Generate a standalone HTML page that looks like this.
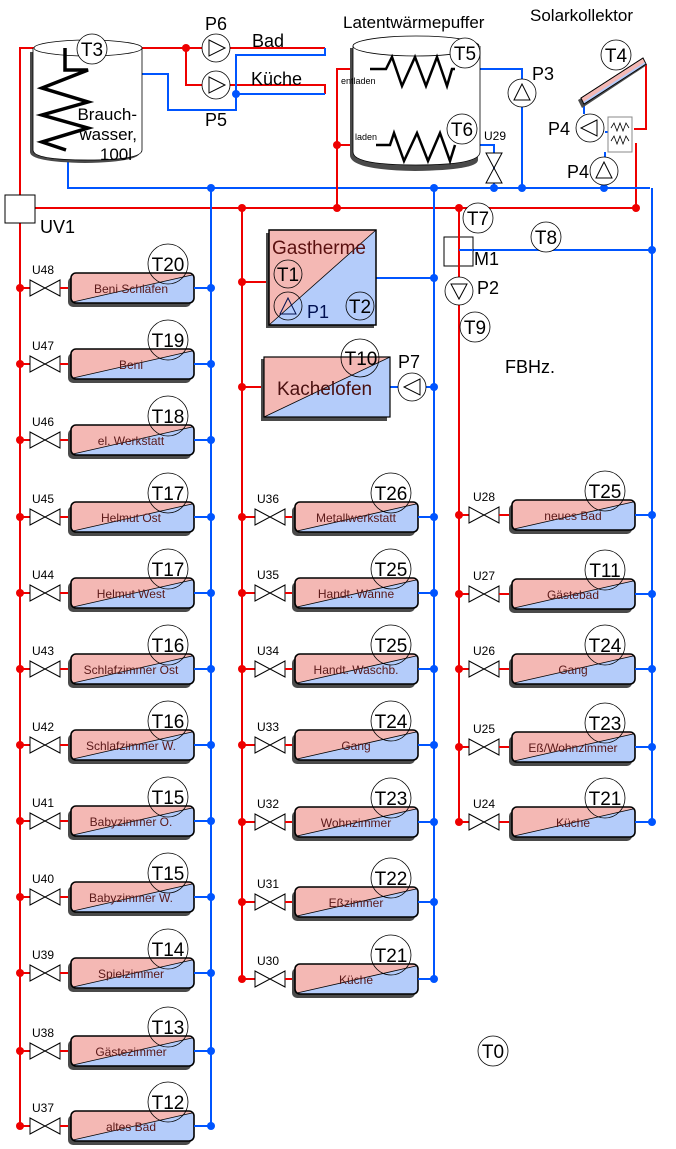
<!DOCTYPE html>
<html><head><meta charset="utf-8"><style>
html,body{margin:0;padding:0;background:#fff}
svg{display:block}
text{font-family:"Liberation Sans",sans-serif}
.n{font-size:12px;fill:#5a1818;text-anchor:middle}
.u{font-size:12px;fill:#000;text-anchor:middle}
.t{font-size:19px;fill:#000;text-anchor:middle}
.b{font-size:18px;fill:#000}
</style></head><body>
<svg width="676" height="1149" viewBox="0 0 676 1149" xmlns="http://www.w3.org/2000/svg">
<defs>
<g id="rad">
 <rect x="-3" y="-11" width="123" height="30" rx="5" fill="#4a4a4a"/>
 <rect x="0" y="-15" width="123" height="30" rx="5" fill="#f4b8b4"/>
 <path d="M2,14 L121,-13 L123,-9 V10 Q123,15 118,15 H5 Z" fill="#b4ccfa"/>
 <line x1="2" y1="14" x2="121" y2="-13" stroke="#000" stroke-width="0.8"/>
 <rect x="0" y="-15" width="123" height="30" rx="5" fill="none" stroke="#000" stroke-width="1.6"/>
</g>
<path id="vl" d="M0,-8 L15,0 L0,8Z M30,-8 L15,0 L30,8Z" fill="#fff" stroke="#000" stroke-width="1"/>
<g id="L"><line x1="20" y1="0" x2="30" y2="0" stroke="#e00" stroke-width="2"/><use href="#vl" x="30"/><line x1="60" y1="0" x2="72" y2="0" stroke="#e00" stroke-width="2"/><use href="#rad" x="71"/><line x1="194" y1="0" x2="211" y2="0" stroke="#05f" stroke-width="2"/><circle cx="20" r="4" fill="#e00"/><circle cx="211" r="4" fill="#05f"/><circle cx="168" cy="-24" r="20" fill="none" stroke="#000" stroke-width="0.8"/></g>
<g id="M"><line x1="242" y1="0" x2="255" y2="0" stroke="#e00" stroke-width="2"/><use href="#vl" x="255"/><line x1="285" y1="0" x2="296" y2="0" stroke="#e00" stroke-width="2"/><use href="#rad" x="295"/><line x1="418" y1="0" x2="434" y2="0" stroke="#05f" stroke-width="2"/><circle cx="242" r="4" fill="#e00"/><circle cx="434" r="4" fill="#05f"/><circle cx="391" cy="-24" r="20" fill="none" stroke="#000" stroke-width="0.8"/></g>
<g id="R"><line x1="459" y1="0" x2="470" y2="0" stroke="#e00" stroke-width="2"/><use href="#vl" x="469"/><line x1="499" y1="0" x2="513" y2="0" stroke="#e00" stroke-width="2"/><use href="#rad" x="512"/><line x1="635" y1="0" x2="652" y2="0" stroke="#05f" stroke-width="2"/><circle cx="459" r="4" fill="#e00"/><circle cx="652" r="4" fill="#05f"/><circle cx="605" cy="-24" r="20" fill="none" stroke="#000" stroke-width="0.8"/></g>
</defs>

<!-- main pipes -->
<g fill="none" stroke-width="2">
 <path d="M20,1126 V48 H65" stroke="#e00"/>
 <path d="M20,208 H636 V143" stroke="#e00"/>
 <path d="M242,208 V979" stroke="#e00"/>
 <path d="M459,208 V821" stroke="#e00"/>
 <path d="M211,187 V1126" stroke="#05f"/>
 <path d="M434,187 V979" stroke="#05f"/>
 <path d="M652,188 V821" stroke="#05f"/>
 <path d="M68,150 V188 H650" stroke="#05f"/>
 <path d="M459,250 H652" stroke="#05f"/>
 <path d="M376,278 H434" stroke="#05f"/>
 <path d="M390,387 H434" stroke="#05f"/>
 <path d="M242,282 H268 M242,387 H263" stroke="#e00"/>
 <!-- Brauchwasser outputs -->
 <path d="M130,48 H325 M186,48 V85 H325 V94" stroke="#e00"/>
 <path d="M325,48 V55 H236 V110 H168 V74 H142 M236,94 H325" stroke="#05f"/>
 <!-- latent -->
 <path d="M337,208 V69 H370 M337,145 H385" stroke="#e00"/>
 <path d="M455,69 H522 V188 M455,145 H494 V188" stroke="#05f"/>
 <!-- solar -->
 <path d="M646,64 V129 H634" stroke="#e00"/>
 <path d="M584,104 V114 M605,132 H608 M605,152 V188" stroke="#05f"/>
</g>
<g fill="#e00"><circle cx="186" cy="48" r="4"/><circle cx="242" cy="208" r="4"/><circle cx="337" cy="208" r="4"/><circle cx="459" cy="208" r="4"/><circle cx="337" cy="145" r="4"/><circle cx="242" cy="282" r="4"/><circle cx="242" cy="387" r="4"/><circle cx="636" cy="208" r="4"/></g>
<g fill="#05f"><circle cx="236" cy="94" r="4"/><circle cx="211" cy="188" r="4"/><circle cx="434" cy="188" r="4"/><circle cx="494" cy="188" r="4"/><circle cx="522" cy="188" r="4"/><circle cx="604" cy="188" r="4"/><circle cx="434" cy="278" r="4"/><circle cx="434" cy="387" r="4"/><circle cx="652" cy="250" r="4"/></g>

<!-- Brauchwasser tank -->
<path d="M30,52 V152 Q30,162 85,163 Q140,162 140,152 V52" fill="#4a4a4a"/>
<path d="M33,48 V150 Q33,160 88,160 Q142,160 142,150 V48" fill="#fff" stroke="#000" stroke-width="0.8"/>
<ellipse cx="88" cy="48" rx="54" ry="8" fill="#fff" stroke="#000" stroke-width="0.8"/>
<path d="M65,48 V70 H88 L42,88 L88,102 L42,115 L88,128 L42,142 L66,150" fill="none" stroke="#000" stroke-width="3.5"/>
<circle cx="92" cy="49" r="15" fill="#fff" stroke="#000" stroke-width="0.8"/><text x="92" y="56" class="t">T3</text>
<text x="137" y="120" font-size="17" text-anchor="end">Brauch-</text>
<text x="137" y="140" font-size="17" text-anchor="end">wasser,</text>
<text x="132" y="160" font-size="17" text-anchor="end">100l</text>
<!-- pumps P6 P5 -->
<g fill="#fff" stroke="#000" stroke-width="0.8"><circle cx="216" cy="48" r="14"/><circle cx="216" cy="85" r="14"/></g>
<path d="M209,40 L225,48 L209,56Z M209,77 L225,85 L209,93Z" fill="none" stroke="#000"/>
<text x="205" y="30" class="b" font-size="19">P6</text>
<text x="205" y="126" class="b" font-size="19">P5</text>
<text x="252" y="47" class="b" font-size="19">Bad</text>
<text x="251" y="85" class="b" font-size="19">Küche</text>

<!-- UV1 -->
<rect x="5" y="195" width="30" height="28" fill="#fff" stroke="#000"/>
<text x="40" y="233" class="b" font-size="19">UV1</text>

<!-- Latent tank -->
<path d="M350,48 V155 Q350,170 415,171 Q478,170 478,160 V48" fill="#4a4a4a"/>
<path d="M353,46 V152 Q353,165 416,165 Q480,165 480,152 V46" fill="#fff" stroke="#000" stroke-width="0.8"/>
<ellipse cx="416" cy="46" rx="63" ry="10" fill="#fff" stroke="#000" stroke-width="0.8"/>
<path d="M370,69 H386 L392,57 L402,86 L415,57 L426,86 L437,57 L447,86 L452,69 H455" fill="none" stroke="#000" stroke-width="2.5"/>
<path d="M376,145 H390 L394,133 L404,161 L417,133 L428,161 L440,133 L450,161 L455,145" fill="none" stroke="#000" stroke-width="2.5"/>
<text x="341" y="84" font-size="9">entladen</text>
<text x="355" y="140" font-size="9">laden</text>
<circle cx="465" cy="53" r="15" fill="#fff" stroke="#000" stroke-width="0.8"/><text x="465" y="60" class="t">T5</text>
<circle cx="462" cy="129" r="15" fill="#fff" stroke="#000" stroke-width="0.8"/><text x="462" y="136" class="t">T6</text>
<text x="343" y="28" font-size="17">Latentwärmepuffer</text>
<text x="484" y="140" font-size="12">U29</text>
<path d="M486,153 L502,153 L494,168Z M486,183 L502,183 L494,168Z" fill="#fff" stroke="#000"/>
<circle cx="522" cy="93" r="14" fill="#fff" stroke="#000" stroke-width="0.8"/>
<path d="M514,100 L522,84 L530,100Z" fill="none" stroke="#000"/>
<text x="532" y="80" class="b" font-size="19">P3</text>

<!-- Solar -->
<text x="530" y="21" font-size="17">Solarkollektor</text>
<path d="M578,100 L643,60 L647,65 L582,108Z" fill="#4a4a4a"/>
<path d="M581,98 L643,58 L646,64 L584,104Z" fill="#f4b8b4" stroke="#000" stroke-width="0.8"/>
<path d="M583,102 L645,62 L646,64 L584,104Z" fill="#b4ccfa"/>
<path d="M581,98 L643,58 L646,64 L584,104Z" fill="none" stroke="#000" stroke-width="0.8"/>
<circle cx="616" cy="55" r="15" fill="#fff" stroke="#000" stroke-width="0.8"/><text x="616" y="62" class="t">T4</text>
<circle cx="590" cy="128" r="14" fill="#fff" stroke="#000" stroke-width="0.8"/>
<path d="M597,120 L581,128 L597,136Z" fill="none" stroke="#000"/>
<text x="548" y="135" class="b" font-size="19">P4</text>
<rect x="608" y="117" width="24" height="35" fill="#fff" stroke="#888"/>
<path d="M611,128 l3,-5 l3,8 l3,-8 l3,8 l3,-8 l3,5 M611,141 l3,-5 l3,8 l3,-8 l3,8 l3,-8 l3,5" fill="none" stroke="#000" stroke-width="0.8"/>
<circle cx="604" cy="171" r="14" fill="#fff" stroke="#000" stroke-width="0.8"/>
<path d="M596,178 L604,162 L612,178Z" fill="none" stroke="#000"/>
<text x="567" y="178" class="b" font-size="19">P4</text>

<!-- M1, P2, T7-T9 -->
<rect x="444" y="237" width="29" height="29" fill="#fff" stroke="#000"/>
<path d="M459,208 V300" stroke="#e00" stroke-width="2"/>
<path d="M459,250 H473" stroke="#05f" stroke-width="2"/>
<text x="474" y="265" class="b" font-size="19">M1</text>
<circle cx="459" cy="291" r="14" fill="#fff" stroke="#000" stroke-width="0.8"/>
<path d="M451,284 L467,284 L459,299Z" fill="none" stroke="#000"/>
<text x="477" y="294" class="b" font-size="19">P2</text>
<circle cx="478" cy="218" r="15" fill="#fff" stroke="#000" stroke-width="0.8"/><text x="478" y="225" class="t">T7</text>
<circle cx="546" cy="237" r="15" fill="#fff" stroke="#000" stroke-width="0.8"/><text x="546" y="244" class="t">T8</text>
<circle cx="475" cy="327" r="15" fill="#fff" stroke="#000" stroke-width="0.8"/><text x="475" y="334" class="t">T9</text>
<text x="505" y="373" class="b" font-size="18">FBHz.</text>

<!-- Gastherme -->
<rect x="266" y="233" width="108" height="95" fill="#4a4a4a"/>
<rect x="269" y="230" width="107" height="95" fill="#f4b8b4"/>
<path d="M269,325 L376,230 V325Z" fill="#b4ccfa"/>
<line x1="269" y1="325" x2="376" y2="230" stroke="#000" stroke-width="0.8"/>
<rect x="269" y="230" width="107" height="95" fill="none" stroke="#000" stroke-width="1.5"/>
<text x="272" y="254" font-size="19" fill="#5a1010">Gastherme</text>
<circle cx="288" cy="274" r="14" fill="none" stroke="#000" stroke-width="0.8"/><text x="288" y="281" class="t" fill="#4a0000">T1</text>
<circle cx="288" cy="306" r="14" fill="none" stroke="#000" stroke-width="0.8"/>
<path d="M280,314 L288,298 L296,314Z" fill="none" stroke="#001050"/>
<text x="307" y="318" font-size="18" fill="#001050">P1</text>
<circle cx="360" cy="306" r="14" fill="none" stroke="#000" stroke-width="0.8"/><text x="360" y="313" class="t" fill="#001050">T2</text>

<!-- Kachelofen -->
<rect x="261" y="359" width="126" height="62" fill="#4a4a4a"/>
<rect x="264" y="357" width="126" height="60" fill="#f4b8b4"/>
<path d="M264,417 L390,357 V417Z" fill="#b4ccfa"/>
<line x1="264" y1="417" x2="390" y2="357" stroke="#000" stroke-width="0.8"/>
<rect x="264" y="357" width="126" height="60" fill="none" stroke="#000" stroke-width="1.2"/>
<text x="277" y="395" font-size="19" fill="#4a1010">Kachelofen</text>
<circle cx="360" cy="358" r="19" fill="none" stroke="#000" stroke-width="0.8"/><text x="361" y="365" class="t">T10</text>
<circle cx="412" cy="387" r="14" fill="#fff" stroke="#000" stroke-width="0.8"/>
<path d="M420,379 L404,387 L420,395Z" fill="none" stroke="#000"/>
<text x="398" y="368" class="b" font-size="19">P7</text>

<!-- T0 -->
<circle cx="493" cy="1051" r="15" fill="#fff" stroke="#000" stroke-width="0.8"/><text x="493" y="1058" class="t">T0</text>

<!-- left column -->
<use href="#L" y="288"/><use href="#L" y="364"/><use href="#L" y="440"/><use href="#L" y="517"/><use href="#L" y="593"/><use href="#L" y="669"/><use href="#L" y="745"/><use href="#L" y="821"/><use href="#L" y="897"/><use href="#L" y="973"/><use href="#L" y="1051"/><use href="#L" y="1126"/>
<g>
<text x="131" y="293" class="n">Beni Schlafen</text><text x="168" y="271" class="t">T20</text><text x="43" y="274" class="u">U48</text>
<text x="131" y="369" class="n">Beni</text><text x="168" y="347" class="t">T19</text><text x="43" y="350" class="u">U47</text>
<text x="131" y="445" class="n">el. Werkstatt</text><text x="168" y="423" class="t">T18</text><text x="43" y="426" class="u">U46</text>
<text x="131" y="522" class="n">Helmut Ost</text><text x="168" y="500" class="t">T17</text><text x="43" y="503" class="u">U45</text>
<text x="131" y="598" class="n">Helmut West</text><text x="168" y="576" class="t">T17</text><text x="43" y="579" class="u">U44</text>
<text x="131" y="674" class="n">Schlafzimmer Ost</text><text x="168" y="652" class="t">T16</text><text x="43" y="655" class="u">U43</text>
<text x="131" y="750" class="n">Schlafzimmer W.</text><text x="168" y="728" class="t">T16</text><text x="43" y="731" class="u">U42</text>
<text x="131" y="826" class="n">Babyzimmer O.</text><text x="168" y="804" class="t">T15</text><text x="43" y="807" class="u">U41</text>
<text x="131" y="902" class="n">Babyzimmer W.</text><text x="168" y="880" class="t">T15</text><text x="43" y="883" class="u">U40</text>
<text x="131" y="978" class="n">Spielzimmer</text><text x="168" y="956" class="t">T14</text><text x="43" y="959" class="u">U39</text>
<text x="131" y="1056" class="n">Gästezimmer</text><text x="168" y="1034" class="t">T13</text><text x="43" y="1037" class="u">U38</text>
<text x="131" y="1131" class="n">altes Bad</text><text x="168" y="1109" class="t">T12</text><text x="43" y="1112" class="u">U37</text>
</g>

<!-- middle column -->
<use href="#M" y="517"/><use href="#M" y="593"/><use href="#M" y="669"/><use href="#M" y="745"/><use href="#M" y="822"/><use href="#M" y="902"/><use href="#M" y="979"/>
<g>
<text x="356" y="522" class="n">Metallwerkstatt</text><text x="391" y="500" class="t">T26</text><text x="268" y="503" class="u">U36</text>
<text x="356" y="598" class="n">Handt. Wanne</text><text x="391" y="576" class="t">T25</text><text x="268" y="579" class="u">U35</text>
<text x="356" y="674" class="n">Handt. Waschb.</text><text x="391" y="652" class="t">T25</text><text x="268" y="655" class="u">U34</text>
<text x="356" y="750" class="n">Gang</text><text x="391" y="728" class="t">T24</text><text x="268" y="731" class="u">U33</text>
<text x="356" y="827" class="n">Wohnzimmer</text><text x="391" y="805" class="t">T23</text><text x="268" y="808" class="u">U32</text>
<text x="356" y="907" class="n">Eßzimmer</text><text x="391" y="885" class="t">T22</text><text x="268" y="888" class="u">U31</text>
<text x="356" y="984" class="n">Küche</text><text x="391" y="962" class="t">T21</text><text x="268" y="965" class="u">U30</text>
</g>

<!-- right column -->
<use href="#R" y="515"/><use href="#R" y="594"/><use href="#R" y="669"/><use href="#R" y="747"/><use href="#R" y="822"/>
<g>
<text x="573" y="520" class="n">neues Bad</text><text x="605" y="498" class="t">T25</text><text x="484" y="501" class="u">U28</text>
<text x="573" y="599" class="n">Gästebad</text><text x="605" y="577" class="t">T11</text><text x="484" y="580" class="u">U27</text>
<text x="573" y="674" class="n">Gang</text><text x="605" y="652" class="t">T24</text><text x="484" y="655" class="u">U26</text>
<text x="573" y="752" class="n">Eß/Wohnzimmer</text><text x="605" y="730" class="t">T23</text><text x="484" y="733" class="u">U25</text>
<text x="573" y="827" class="n">Küche</text><text x="605" y="805" class="t">T21</text><text x="484" y="808" class="u">U24</text>
</g>
</svg>
</body></html>
